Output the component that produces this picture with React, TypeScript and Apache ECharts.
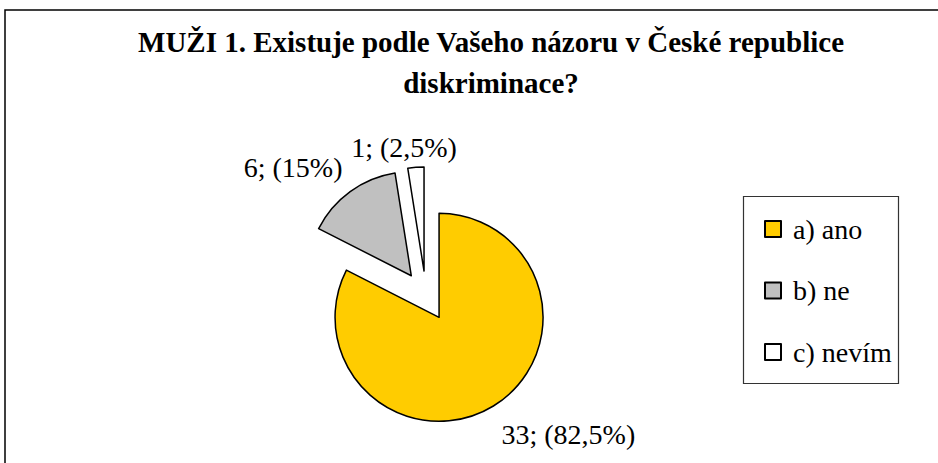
import React, { useEffect, useRef } from 'react';
import * as echarts from 'echarts';

const titleText = 'MUŽI 1. Existuje podle Vašeho názoru v České republice\ndiskriminace?';
const categories = ['a) ano', 'b) ne', 'c) nevím'];
const counts = [33, 6, 1];
const colors = ['#FFCC00', '#C0C0C0', '#FFFFFF'];
const labelShift = [
  [-10, 7],
  [12, -4],
  [48, 5],
];

const FONT = "'Liberation Serif', 'Times New Roman', serif";

export default function App() {
  const ref = useRef<HTMLDivElement>(null);
  useEffect(() => {
    if (!ref.current) return;
    const chart = echarts.init(ref.current, undefined, { renderer: 'svg' });
    chart.setOption({
      animation: false,
      backgroundColor: '#ffffff',
      title: {
        text: titleText,
        left: 491,
        top: 21,
        padding: 0,
        textAlign: 'center',
        textStyle: {
          fontFamily: FONT,
          fontSize: 29,
          fontWeight: 'bold',
          color: '#000',
          lineHeight: 41,
        },
      },
      legend: {
        orient: 'vertical',
        left: 764,
        top: 214,
        padding: 0,
        borderWidth: 0,
        itemWidth: 16,
        itemHeight: 16,
        itemGap: 31.5,
        icon: 'rect',
        selectedMode: false,
        data: categories,
        textStyle: {
          fontFamily: FONT,
          fontSize: 28,
          color: '#000',
          lineHeight: 30,
          padding: [0, 0, 0, 7],
        },
      },
      graphic: [
        {
          type: 'rect',
          z: -1,
          shape: { x: 5, y: 10, width: 960, height: 480 },
          style: { fill: 'none', stroke: '#000', lineWidth: 1.5 },
          silent: true,
        },
        {
          type: 'rect',
          z: -1,
          shape: { x: 743.5, y: 196.5, width: 155, height: 187 },
          style: { fill: 'none', stroke: '#333', lineWidth: 1.2 },
          silent: true,
        },
      ],
      series: [
        {
          type: 'pie',
          center: [426, 296],
          radius: 104,
          startAngle: 90,
          clockwise: true,
          selectedMode: 'multiple',
          selectedOffset: 25,
          avoidLabelOverlap: false,
          emphasis: { disabled: true },
          itemStyle: { borderColor: '#000', borderWidth: 1.5 },
          label: {
            show: true,
            position: 'outside',
            fontFamily: FONT,
            fontSize: 28,
            color: '#000',
            formatter: (p: any) => `${p.value}; (${String(p.percent).replace('.', ',')}%)`,
          },
          labelLine: { show: false, length: 25, length2: 0 },
          labelLayout: (p: any) => ({ dx: labelShift[p.dataIndex][0], dy: labelShift[p.dataIndex][1] }),
          data: categories.map((c, i) => ({
            name: c,
            value: counts[i],
            selected: true,
            itemStyle: { color: colors[i] },
          })),
        },
      ],
    });
    return () => chart.dispose();
  }, []);
  return (
    <div
      ref={ref}
      style={{ position: 'absolute', left: 0, top: 0, width: 938, height: 463 }}
    />
  );
}
